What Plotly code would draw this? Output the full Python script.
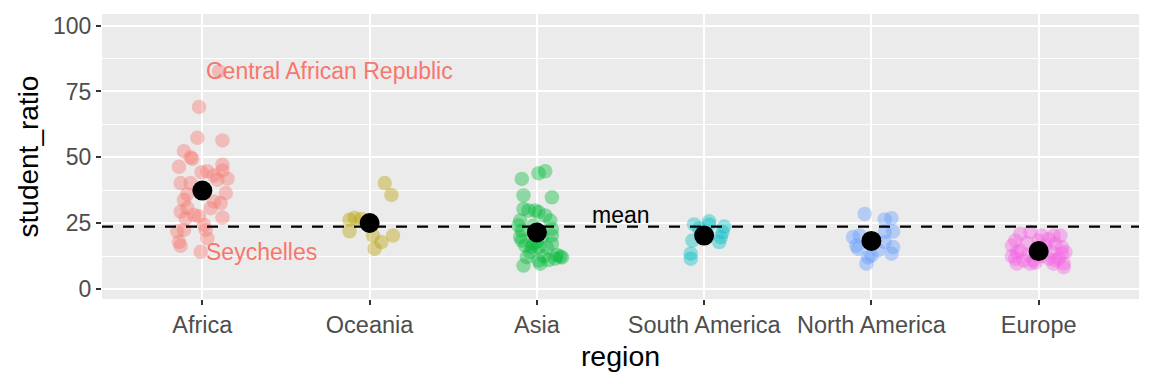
import plotly.graph_objects as go

FONT = "Liberation Sans, Arial, Helvetica, sans-serif"

regions = ["Africa", "Oceania", "Asia", "South America", "North America", "Europe"]
colors = ["#F8766D", "#B79F00", "#00BA38", "#00BFC4", "#619CFF", "#F564E3"]

africa_ratio = [82.6, 69.1, 57.4, 56.4, 52.3, 49.4, 50.0, 46.4, 47.2, 45.0, 44.7, 44.3, 43.1, 41.9, 41.5,
                40.2, 40.2, 36.4, 36.0, 33.8, 32.6, 33.2, 30.7, 29.4, 28.1, 30.8, 27.1, 26.8, 27.6, 24.3,
                22.4, 21.8, 22.4, 19.2, 17.9, 16.4, 14.1]
africa_jit = [0.10, -0.02, -0.03, 0.12, -0.11, -0.06, -0.07, -0.14, 0.12, 0.12, 0.03, -0.005, 0.07, 0.15, 0.09,
              -0.13, -0.07, 0.14, -0.09, -0.11, 0.11, 0.07, 0.05, -0.13, -0.05, -0.09, 0.12, -0.10, -0.02, 0.01,
              0.02, -0.15, -0.11, 0.03, -0.14, -0.13, -0.01]

oceania_ratio = [40.2, 35.7, 26.3, 27.0, 26.6, 21.9, 20.3, 20.3, 17.8, 15.3, 24.0]
oceania_jit = [0.09, 0.13, -0.12, -0.09, -0.05, -0.12, 0.02, 0.14, 0.07, 0.03, 0.0]

asia_ratio = [44.7, 43.9, 41.8, 35.5, 34.8, 30.4, 29.8, 29.8, 29.2, 27.9, 26.0, 26.0, 24.1, 24.1, 22.8,
              22.2, 19.7, 20.3, 18.4, 16.5, 17.2, 15.9, 15.9, 15.7, 12.1, 12.3, 11.5, 12.9, 10.8, 12.5,
              8.9, 9.6, 12.0, 18.0, 17.0, 20.0, 14.0, 11.0]
asia_jit = [0.05, 0.01, -0.09, -0.08, 0.09, -0.08, -0.05, -0.01, 0.01, 0.05, 0.08, -0.10, -0.11, -0.02, 0.09,
            -0.09, -0.10, 0.09, -0.09, -0.07, 0.09, -0.03, 0.01, 0.06, -0.06, 0.14, 0.11, 0.12, 0.01, 0.04,
            -0.08, 0.02, 0.15, 0.0, -0.02, 0.03, -0.04, 0.07]

south_america_ratio = [24.5, 25.7, 24.4, 23.7, 21.6, 19.7, 17.8, 18.4, 13.4, 11.5, 23.0, 19.5]
south_america_jit = [-0.06, 0.03, 0.03, 0.12, 0.11, 0.10, 0.09, -0.07, -0.08, -0.08, -0.03, 0.0]

north_america_ratio = [28.5, 26.4, 26.9, 21.8, 21.6, 19.7, 20.3, 15.3, 16.5, 15.9, 13.4, 12.7, 9.6, 14.7, 17.8,
                       17.0, 12.0]
north_america_jit = [-0.04, 0.08, 0.12, 0.13, 0.08, -0.11, -0.07, -0.08, -0.09, 0.13, 0.12, 0.0, -0.03, 0.04, 0.08,
                     0.0, -0.02]

europe_ratio = [20.9, 21.6, 20.3, 20.3, 20.3, 18.4, 16.5, 17.2, 15.9, 14.0, 14.5, 14.0, 13.4, 11.5, 10.8,
                11.5, 11.5, 9.6, 9.6, 12.4, 11.0, 9.6, 18.4, 17.5, 16.5, 14.0, 12.5, 9.6, 13.0, 19.0,
                8.3, 10.0, 11.0]
europe_jit = [-0.11, -0.05, 0.02, 0.09, 0.13, -0.14, -0.16, 0.10, 0.14, -0.13, -0.11, 0.08, 0.14, -0.14, -0.09,
              0.06, 0.12, 0.15, -0.05, 0.02, -0.03, -0.13, 0.0, -0.07, 0.04, 0.16, -0.16, 0.09, -0.06, 0.06,
              0.15, -0.02, 0.10]

ratios = [africa_ratio, oceania_ratio, asia_ratio, south_america_ratio, north_america_ratio, europe_ratio]
jitters = [africa_jit, oceania_jit, asia_jit, south_america_jit, north_america_jit, europe_jit]

# labelled countries (index into africa arrays)
labels = [("Central African Republic", 0), ("Seychelles", 36)]

fig = go.Figure()

for i, (vals, jit) in enumerate(zip(ratios, jitters)):
    fig.add_trace(go.Scatter(
        x=[i + j for j in jit], y=vals, mode="markers",
        marker=dict(size=14.5, color=colors[i], opacity=0.4, line=dict(width=0)),
        showlegend=False, hoverinfo="skip"))

all_vals = [v for r in ratios for v in r]
world_mean = sum(all_vals) / len(all_vals)
region_means = [sum(r) / len(r) for r in ratios]

fig.add_shape(type="line", xref="paper", x0=0, x1=1, yref="y", y0=world_mean, y1=world_mean,
              line=dict(color="black", width=2.2, dash="11px,10px"), layer="above")

fig.add_trace(go.Scatter(
    x=list(range(len(regions))), y=region_means, mode="markers",
    marker=dict(size=20, color="black", line=dict(width=0)),
    showlegend=False, hoverinfo="skip"))

for name, idx in labels:
    fig.add_annotation(x=0 + 0.01, y=africa_ratio[idx], text=name, showarrow=False,
                       xanchor="left", yanchor="middle",
                       font=dict(family=FONT, size=23, color="#F8766D"))

fig.add_annotation(x=2.5, y=world_mean, text="mean", showarrow=False, xanchor="center",
                   yanchor="bottom", yshift=-3, font=dict(family=FONT, size=23, color="black"))

fig.update_layout(
    width=1144, height=376,
    margin=dict(l=94, r=13, t=6, b=85, autoexpand=False),
    paper_bgcolor="white", plot_bgcolor="#EBEBEB",
    font=dict(family=FONT),
    xaxis=dict(range=[-0.6, 5.6], tickmode="array", tickvals=list(range(len(regions))), ticktext=regions,
               automargin=False,
               showgrid=True, gridcolor="white", gridwidth=2, zeroline=False,
               ticks="outside", ticklen=5, tickwidth=1.5, tickcolor="#333333",
               tickfont=dict(family=FONT, size=23.5, color="#4D4D4D"),
               title=dict(text="region", font=dict(family=FONT, size=28.5, color="black"), standoff=8)),
    yaxis=dict(range=[-3.8, 104.4], tickmode="linear", tick0=0, dtick=25,
               automargin=False,
               showgrid=True, gridcolor="white", gridwidth=2, zeroline=False,
               ticks="outside", ticklen=5, tickwidth=1.5, tickcolor="#333333",
               tickfont=dict(family=FONT, size=23, color="#4D4D4D"),
               minor=dict(tick0=0, dtick=12.5, showgrid=True, gridcolor="white", gridwidth=1, ticks=""),
               title=dict(text="student_ratio", font=dict(family=FONT, size=28, color="black"), standoff=6)),
)

fig.write_html("out.html")
